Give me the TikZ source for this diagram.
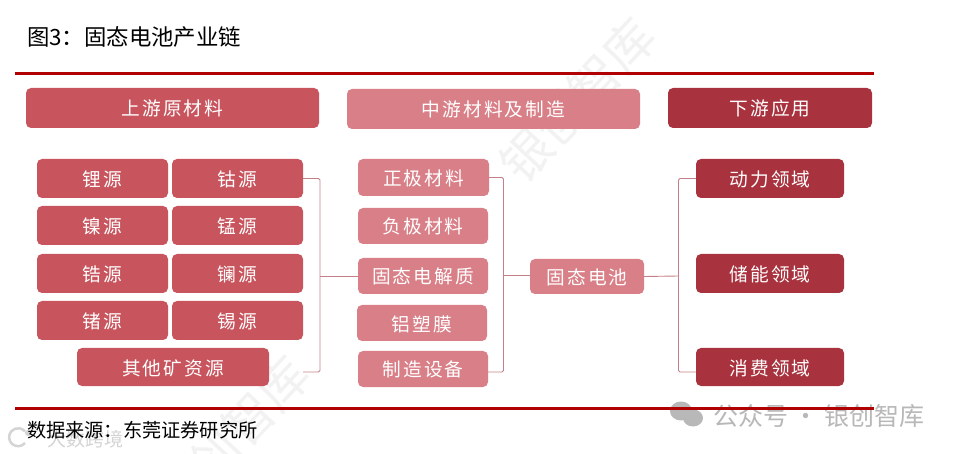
\documentclass[tikz,border=0pt]{standalone}
\usepackage{fontspec}
\setmainfont{Noto Sans CJK SC}
\newfontfamily\boxfont[LetterSpace=11]{Noto Sans CJK SC}
\definecolor{upred}{RGB}{200, 85, 94}
\definecolor{midred}{RGB}{217, 127, 135}
\definecolor{lowred}{RGB}{168, 50, 61}
\definecolor{rulered}{RGB}{176, 0, 0}
\definecolor{linkred}{RGB}{196, 128, 136}
\begin{document}
\begin{tikzpicture}[
  x=1pt, y=-1pt,
  cbox/.style={rounded corners=5pt, inner sep=0pt, text=white, text height=16pt, text depth=0pt, font=\fontsize{18.7}{20}\boxfont},
  upbox/.style={cbox, fill=upred, minimum width=131pt, minimum height=39pt},
  midbox/.style={cbox, fill=midred, minimum width=131pt, minimum height=36pt},
  lowbox/.style={cbox, fill=lowred, minimum width=148pt, minimum height=39pt},
  link/.style={linkred, line width=0.9pt, rounded corners=1.5pt},
  rulebar/.style={rulered, line width=3pt},
  mark1/.style={text=black!5, font=\fontsize{50}{52}\selectfont, rotate=47, inner sep=0pt},
  mark2/.style={text=black!28, inner sep=0pt}
]
  \useasboundingbox[fill=white] (0,0) rectangle (956,454);

  \node[mark1] (wma) at (578,100) {银创智库};
  \node[mark1] (wmb) at (232,438) {银创智库};
  \node[mark2, font=\fontsize{19}{21}\selectfont, text=black!17] (wmc) at (85,439) {大数跨境};
  \draw[black!17, line width=2.5pt] (25,443) arc (40:320:9);
  \fill[black!17] (28,433) circle (3);
  \fill[black!28] (681,411) ellipse (11 and 9.5);
  \fill[black!28] (693,418) ellipse (10 and 8.5);
  \node[mark2, font=\fontsize{25}{27}\selectfont, anchor=west] (wmd) at (713,416) {公众号 · 银创智库};

  \node[anchor=west, font=\fontsize{22.4}{24}\selectfont] (title) at (23.5,37) {图3：固态电池产业链};
  \draw[rulebar] (15,73.5) -- (874,73.5);
  \draw[rulebar] (15,408) -- (874,408);
  \node[anchor=west, font=\fontsize{19.2}{22}\selectfont] (src) at (23.5,430) {数据来源：东莞证券研究所};

  \node[upbox, minimum width=293pt, minimum height=40pt] (up) at (172.5,108) {上游原材料};
  \node[midbox, minimum width=293pt, minimum height=40pt] (mid) at (493.5,109) {中游材料及制造};
  \node[lowbox, minimum width=204pt, minimum height=40pt] (low) at (770,108) {下游应用};

  \node[upbox] (li) at (102.5,178.5) {锂源};
  \node[upbox] (co) at (237.5,178.5) {钴源};
  \node[upbox] (ni) at (102.5,225.5) {镍源};
  \node[upbox] (mn) at (237.5,225.5) {锰源};
  \node[upbox] (zr) at (102.5,273.5) {锆源};
  \node[upbox] (la) at (237.5,273.5) {镧源};
  \node[upbox] (ge) at (102.5,320.5) {锗源};
  \node[upbox] (sn) at (237.5,320.5) {锡源};
  \node[upbox, minimum width=192pt, minimum height=38pt] (ore) at (173,367) {其他矿资源};

  \node[midbox, minimum height=37pt] (cat) at (423.5,177.5) {正极材料};
  \node[midbox, minimum width=130pt] (ano) at (423,226) {负极材料};
  \node[midbox, minimum width=130pt] (ele) at (423,276) {固态电解质};
  \node[midbox, minimum width=130pt] (alu) at (422,323) {铝塑膜};
  \node[midbox, minimum width=130pt] (equ) at (423,369) {制造设备};

  \node[midbox, minimum width=114pt, minimum height=35pt] (bat) at (587,276.5) {固态电池};

  \node[lowbox] (pow) at (770,178.5) {动力领域};
  \node[lowbox] (sto) at (770,273.5) {储能领域};
  \node[lowbox, minimum height=38pt] (con) at (770,367) {消费领域};

  \coordinate (busa) at (320,276);
  \coordinate (busb) at (503.5,275);
  \coordinate (busc) at (678.5,276);
  \coordinate (orend) at (303,372);

  \draw[link] (co.east) -| (busa) |- (orend);
  \draw[link] (busa) -- (ele.west);
  \draw[link] (cat.east) -| (busb) |- (equ.east |- orend);
  \draw[link] (busb) -- (bat.west |- busb);
  \draw[link] (bat.east) -- (busc);
  \draw[link] (pow.west) -| (busc) |- (con.west |- orend);
\end{tikzpicture}
\end{document}
